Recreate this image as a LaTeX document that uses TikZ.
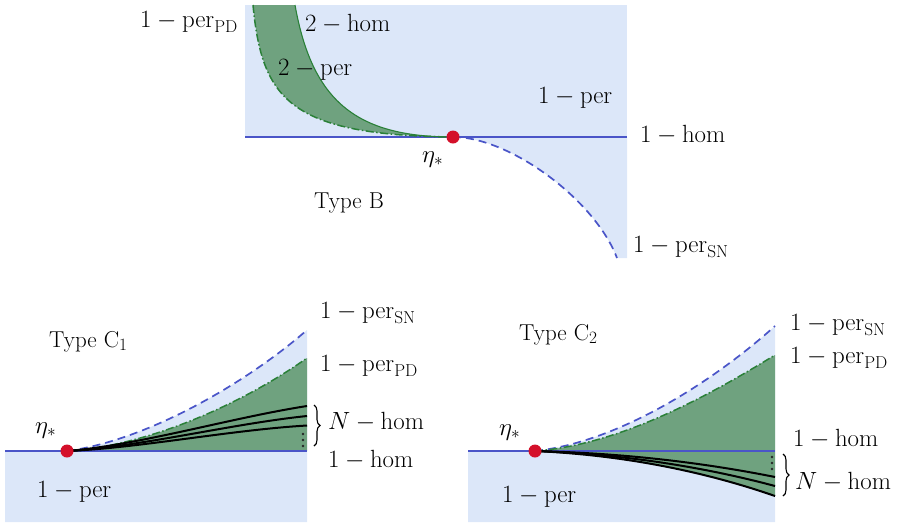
\documentclass[tikz,border=0pt]{standalone}
\usetikzlibrary{decorations.pathreplacing}
\definecolor{lblue}{HTML}{DCE7F9}
\definecolor{fgreen}{HTML}{6FA27F}
\definecolor{dgreen}{HTML}{2A8038}
\definecolor{lineblue}{HTML}{4A55C8}
\definecolor{dotred}{HTML}{D4102A}
\begin{document}
\begin{tikzpicture}[x=1pt,y=-1pt,
 lbl/.style={anchor=base west,inner sep=0pt,font=\fontsize{23}{27}\selectfont},
 hline/.style={lineblue,line width=1.4pt},
 sn/.style={lineblue,line width=1.7pt,dash pattern=on 8pt off 5pt},
 pd/.style={dgreen,line width=1.5pt,dash pattern=on 8pt off 2.5pt on 1.5pt off 2.5pt},
 homc/.style={black,line width=2pt},
 eq/.style={circle,fill=dotred,inner sep=0pt,minimum size=13pt},
 brc/.style={decorate,decoration={brace,amplitude=6pt},line width=1.1pt},
 vd/.style={fill=black!85}]
\useasboundingbox (0,0) rectangle (899,523);
% ---------------- Type B ----------------
\coordinate (Bp) at (453,137);
\fill[lblue] (245,5) rectangle (627,137);
\fill[lblue] (Bp) .. controls (510,137) and (595,200) .. (617,258) -- (627,258) -- (627,137) -- cycle;
\fill[fgreen] (253,5) .. controls (262,100) and (290,135) .. (Bp) .. controls (355,137) and (312,100) .. (295,5) -- cycle;
\draw[hline] (245,137) -- (627,137);
\draw[pd] (253,5) .. controls (262,100) and (290,135) .. (Bp);
\draw[dgreen,line width=1.1pt] (295,5) .. controls (312,100) and (355,137) .. (Bp);
\draw[sn] (Bp) .. controls (510,137) and (595,200) .. (617,258);
\node[eq] (Bdot) at (Bp) {};
\node[lbl] (BperPD) at (140,27) {$1-\mathrm{per}_{\mathrm{PD}}$};
\node[lbl] (Bhom2) at (305,31) {$2-\mathrm{hom}$};
\node[lbl] (Bper2) at (278,75) {$2-\mathrm{per}$};
\node[lbl] (Bper1) at (538,103) {$1-\mathrm{per}$};
\node[lbl] (Bhom1) at (640,142) {$1-\mathrm{hom}$};
\node[lbl] (Beta) at (422,162) {$\eta_*$};
\node[lbl] (Btype) at (314,208) {Type B};
\node[lbl] (BperSN) at (633,252) {$1-\mathrm{per}_{\mathrm{SN}}$};
% ---------------- Type C1 ----------------
\coordinate (Cp) at (67,451);
\fill[lblue] (Cp) .. controls (150,440) and (250,380) .. (307,330) -- (307,522) -- (5,522) -- (5,451) -- cycle;
\fill[fgreen] (Cp) .. controls (150,446) and (245,402) .. (307,358) -- (307,451) -- cycle;
\draw[hline] (5,451) -- (307,451);
\draw[sn] (Cp) .. controls (150,440) and (250,380) .. (307,330);
\draw[pd] (Cp) .. controls (150,446) and (245,402) .. (307,358);
\draw[homc] (Cp) .. controls (140,445) and (230,418) .. (307,406);
\draw[homc] (Cp) .. controls (140,447) and (230,424) .. (307,416);
\draw[homc] (Cp) .. controls (140,448) and (230,430) .. (307,425.5);
\fill[vd] (303,434) circle (1.4) (303,440) circle (1.4) (303,446) circle (1.4);
\node[eq] (Cdot) at (Cp) {};
\draw[brc] (314,405) -- (314,446);
\node[lbl] (CperSN) at (320,318) {$1-\mathrm{per}_{\mathrm{SN}}$};
\node[lbl] (Ctype) at (49,347) {Type C$_1$};
\node[lbl] (CperPD) at (320,371) {$1-\mathrm{per}_{\mathrm{PD}}$};
\node[lbl] (CN) at (328,429) {$N-\mathrm{hom}$};
\node[lbl] (Chom1) at (328,467) {$1-\mathrm{hom}$};
\node[lbl] (Ceta) at (35,433) {$\eta_*$};
\node[lbl] (Cper1) at (37,497) {$1-\mathrm{per}$};
% ---------------- Type C2 ----------------
\coordinate (Dp) at (535,451);
\fill[lblue] (Dp) .. controls (620,442) and (715,380) .. (775,326) -- (775,522) -- (468,522) -- (468,451) -- cycle;
\fill[fgreen] (Dp) .. controls (620,445) and (710,395) .. (775,355) -- (775,496) .. controls (700,470) and (620,455) .. (Dp) -- cycle;
\draw[hline] (468,451) -- (775,451);
\draw[sn] (Dp) .. controls (620,442) and (715,380) .. (775,326);
\draw[pd] (Dp) .. controls (620,445) and (710,395) .. (775,355);
\draw[homc] (Dp) .. controls (620,453) and (700,462) .. (775,477);
\draw[homc] (Dp) .. controls (620,454) and (700,466) .. (775,486);
\draw[homc] (Dp) .. controls (620,455) and (700,470) .. (775,496);
\fill[vd] (772,457) circle (1.4) (772,463) circle (1.4) (772,469) circle (1.4);
\node[eq] (Ddot) at (Dp) {};
\draw[brc] (783,454) -- (783,496);
\node[lbl] (DperSN) at (790,330) {$1-\mathrm{per}_{\mathrm{SN}}$};
\node[lbl] (Dtype) at (519,340) {Type C$_2$};
\node[lbl] (DperPD) at (790,363) {$1-\mathrm{per}_{\mathrm{PD}}$};
\node[lbl] (Dhom1) at (793,446) {$1-\mathrm{hom}$};
\node[lbl] (DN) at (795,489) {$N-\mathrm{hom}$};
\node[lbl] (Deta) at (499,435) {$\eta_*$};
\node[lbl] (Dper1) at (502,502) {$1-\mathrm{per}$};
\end{tikzpicture}
\end{document}
